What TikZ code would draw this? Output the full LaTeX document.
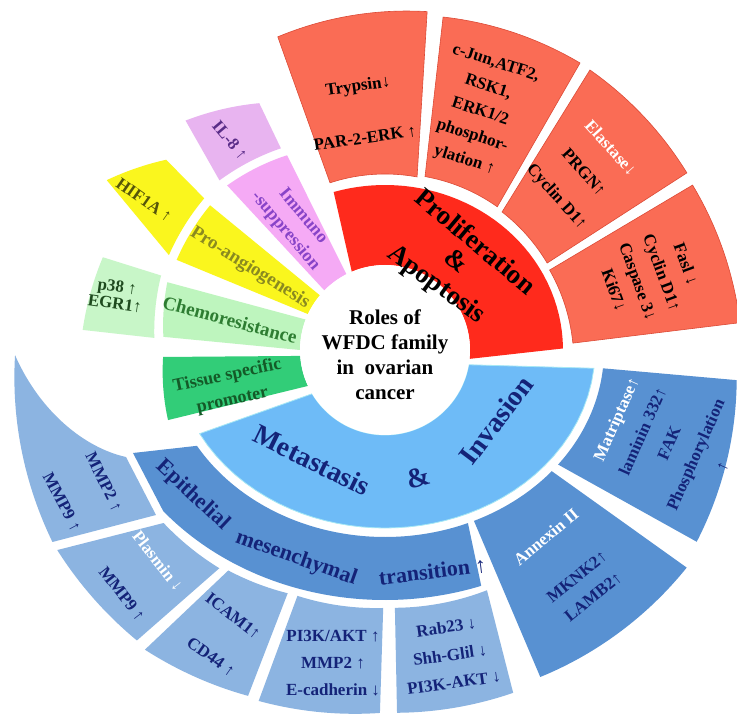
\documentclass[tikz,border=0pt]{standalone}
\usepackage{fontspec}
\setmainfont{Liberation Serif}
\definecolor{redband}{HTML}{FF2A1C}
\definecolor{salmon}{HTML}{FA6C55}
\definecolor{salmonedge}{HTML}{DC4A36}
\definecolor{lbblue}{HTML}{6EBBF7}
\definecolor{lbedge}{HTML}{A6E8F5}
\definecolor{midblue}{HTML}{5891D2}
\definecolor{ltblue}{HTML}{8CB4E1}
\definecolor{navy}{HTML}{142378}
\definecolor{immpink}{HTML}{F5AAF5}
\definecolor{ilpink}{HTML}{E8B4F0}
\definecolor{yel}{HTML}{FAF61E}
\definecolor{chemog}{HTML}{BEF5BE}
\definecolor{tissg}{HTML}{32CD78}
\definecolor{purtxt}{HTML}{8844C8}
\definecolor{ilpurtxt}{HTML}{5A2C88}
\definecolor{olivetxt}{HTML}{8A8A20}
\definecolor{hiftxt}{HTML}{55550A}
\definecolor{chemotxt}{HTML}{2E7D32}
\definecolor{ptxt}{HTML}{1E4A1E}
\definecolor{tisstxt}{HTML}{145A28}

\newcommand\myfs[2]{\fontsize{#1}{#2}\selectfont\bfseries}
\newcommand\wseg[7]{\path[#1] plot[domain=#2:#3,samples=40,variable=\t] (\t:{#4}) -- plot[domain=#6:#5,samples=40,variable=\t] (\t:{#7}) -- cycle;}

\begin{document}
\begin{tikzpicture}[x=1pt,y=1pt,
  declare function={lrp(\vt,\va,\vb,\ra,\rb)=\ra+(\rb-\ra)*(\vt-\va)/(\vb-\va);
                    ell(\vt,\ea,\eb)=100*\ea*\eb/sqrt((\eb*cos(\vt))^2+(\ea*sin(\vt))^2);},
  salmonbox/.style={fill=salmon,draw=salmonedge,line width=0.6pt},
  ltbox/.style={fill=ltblue},
  midbox/.style={fill=midblue},
  lbbox/.style={fill=lbblue,draw=lbedge,line width=0.8pt},
  ctext/.style={font=\myfs{21}{25},align=center,inner sep=0pt},
  bigtxt/.style={font=\myfs{27}{27},inner sep=0pt},
  mtxt/.style={font=\myfs{28}{28},text=navy,inner sep=0pt},
  emttxt/.style={font=\myfs{22}{22},text=navy,inner sep=0pt,anchor=base},
  salmtxt/.style={font=\myfs{17}{25.5},align=center,inner sep=0pt},
  bluetxt/.style={font=\myfs{17}{26},align=center,text=navy,inner sep=0pt},
  fantxt/.style={align=center,inner sep=0pt}]
\useasboundingbox (-385,-368) rectangle (352,350);
\clip (-385,-368) rectangle (352,350);
\fill[white] (-385,-368) rectangle (352,350);

% ---- red side ----
\wseg{fill=redband}{-6}{113}{85}{0.5}{108}{ell(\t,1.78,1.65)}
\wseg{salmonbox}{79.5}{108.2}{176}{82.9}{108.9}{lrp(\t,82.9,108.9,341,331)}
\wseg{salmonbox}{51.9}{77}{lrp(\t,51.9,77,182,178)}{55.8}{80.1}{lrp(\t,55.8,80.1,347,338)}
\wseg{salmonbox}{28.2}{49.7}{lrp(\t,28.2,49.7,184,181)}{30.4}{53.8}{lrp(\t,30.4,53.8,350,347)}
\wseg{salmonbox}{2.1}{25.9}{lrp(\t,2.1,25.9,188,183)}{4.4}{28.2}{lrp(\t,4.4,28.2,356,349)}

% ---- left fan ----
\wseg{fill=immpink}{117}{135.5}{85}{116.7}{133.8}{lrp(\t,116.7,133.8,218,228)}
\wseg{fill=ilpink}{117.3}{134.3}{lrp(\t,117.3,134.3,227,237)}{117}{131}{lrp(\t,117,131,277,304)}
\wseg{fill=yel}{140}{155}{85}{140.4}{156.6}{227}
\wseg{fill=yel}{140}{156.3}{236}{139}{148.6}{lrp(\t,139,148.6,290,326)}
\wseg{fill=chemog}{159}{180}{85}{162.7}{176.6}{lrp(\t,162.7,176.6,228,222)}
\wseg{fill=chemog!85!white}{161.6}{177}{lrp(\t,161.6,177,236,231)}{161.8}{176.2}{lrp(\t,161.8,176.2,297,303)}
\wseg{fill=tissg}{184}{205}{85}{181.8}{197.9}{lrp(\t,181.8,197.9,222,228)}

% ---- blue side ----
\wseg{lbbox}{211}{350}{85}{204.3}{355}{ell(\t,2.10,1.78)}
\path[midbox] plot[domain=207:295.6,samples=60,variable=\t] (\t:{ell(\t,2.19,1.87)})
  -- plot[domain=292.2:216,samples=60,variable=\t] (\t:{ell(\t,2.90,2.50)}) -- (-252,-103) -- cycle;
\wseg{midbox}{326.5}{355.2}{ell(\t,2.19,1.87)}{328.4}{355.1}{lrp(\t,328.4,355.1,366,353)}
\wseg{midbox}{297.5}{324}{ell(\t,2.19,1.87)}{295.4}{324.2}{lrp(\t,295.4,324.2,362,372)}
\wseg{ltbox}{272.2}{293}{lrp(\t,272.2,293,258,261)}{271.9}{290.5}{lrp(\t,271.9,290.5,363,366)}
\wseg{ltbox}{250.4}{269.6}{lrp(\t,250.4,269.6,261,258)}{250.2}{269.2}{lrp(\t,250.2,269.2,373,363)}
\wseg{ltbox}{234.6}{248.2}{lrp(\t,234.6,248.2,270.5,262)}{231.3}{248.4}{lrp(\t,231.3,248.4,384,372)}
\wseg{ltbox}{218}{232.8}{lrp(\t,218,232.8,281,274)}{211.4}{229.5}{lrp(\t,211.4,229.5,384,382)}
\path[ltbox] plot[domain=180.8:210,samples=40,variable=\t] (\t:{lrp(\t,180.8,210,370,384)})
  -- (-229,-165) -- (-259,-107) .. controls (-300,-98) and (-345,-62) .. (180.8:370) -- cycle;

% ---- centre ----
\fill[white] (0,0) circle (85);
\node[ctext] (centre) at (0,-5) {Roles of\\WFDC family\\in\enspace ovarian\\cancer};

% ---- red texts ----
\node[bigtxt,rotate=-40] (prolif) at (91,109) {Proliferation};
\node[bigtxt,rotate=-38] (ampA) at (72,90) {\&};
\node[bigtxt,rotate=-36] (apop) at (51,65) {Apoptosis};
\node[salmtxt,rotate=8] (tryp) at (-27,263) {Trypsin↓};
\node[salmtxt,rotate=8] (par) at (-20,212) {PAR-2-ERK ↑};
\node[salmtxt,rotate=-18] (cjun) at (95,238) {c-Jun,ATF2,\\RSK1,\\ERK1/2\\phosphor-\\ylation ↑};
\node[salmtxt,rotate=-48,font=\myfs{17}{36}] (prgn) at (198,177) {\textcolor{white}{Elastase↓}\\PRGN↑\\Cyclin D1↑};
\node[salmtxt,rotate=-70] (fasl) at (265,73) {Fasl ↓\\Cyclin D1↑\\Caspase 3↓\\Ki67↓};

% ---- fan texts ----
\node[fantxt,font=\myfs{17}{17},text=ilpurtxt,rotate=-50] (il8) at (-155,210) {IL-8 ↑};
\node[fantxt,font=\myfs{18}{23},text=purtxt,rotate=-50] (immuno) at (-91,126) {Immuno\\-suppression};
\node[fantxt,font=\myfs{17}{17},text=hiftxt,rotate=-35] (hif) at (-241,150) {HIF1A ↑};
\node[fantxt,font=\myfs{19}{19},text=olivetxt,rotate=-32] (proang) at (-135,82) {Pro-angiogenesis};
\node[fantxt,font=\myfs{17}{17},text=ptxt,rotate=-8] (p38) at (-269,55) {p38 ↑\\EGR1↑};
\node[fantxt,font=\myfs{19}{19},text=chemotxt,rotate=-15] (chemo) at (-155,30) {Chemoresistance};
\node[fantxt,font=\myfs{18}{25},text=tisstxt,rotate=12] (tissue) at (-155,-38) {Tissue specific\\promoter};

% ---- blue texts ----
\node[mtxt,rotate=-26] (meta) at (-73,-110) {Metastasis};
\node[mtxt,rotate=15] (ampB) at (33,-128) {\&};
\node[mtxt,rotate=53] (inva) at (111,-70) {Invasion};
\node[emttxt,rotate=-43] (epi) at (-196,-149) {Epithelial};
\node[emttxt,rotate=-19.6] (mes) at (-90.6,-213.5) {mesenchymal};
\node[emttxt,rotate=7.1] (tra) at (48.5,-228.7) {transition ↑};
\node[bluetxt,rotate=-64] (mmp2a) at (-281,-132) {MMP2 ↑};
\node[bluetxt,rotate=-62] (mmp9a) at (-323,-152) {MMP9 ↑};
\node[bluetxt,rotate=-52,text=white] (plas) at (-227,-211) {Plasmin ↓};
\node[bluetxt,rotate=-52] (mmp9b) at (-263,-244) {MMP9 ↑};
\node[bluetxt,rotate=-38] (icam) at (-152,-266) {ICAM1↑};
\node[bluetxt,rotate=-35] (cd44) at (-174,-307) {CD44 ↑};
\node[bluetxt,font=\myfs{17}{27}] (pi3k) at (-52,-313) {PI3K/AKT ↑\\MMP2 ↑\\E-cadherin ↓};
\node[bluetxt,rotate=8,font=\myfs{17}{28}] (rab) at (65,-305) {Rab23 ↓\\Shh-Glil ↓\\PI3K-AKT ↓};
\node[bluetxt,rotate=40,text=white] (anx) at (161,-187) {Annexin II};
\node[bluetxt,rotate=39] (mknk) at (200,-237) {MKNK2↑\\LAMB2↑};
\node[bluetxt,rotate=66,font=\myfs{17}{29}] (matr) at (284,-93) {\textcolor{white}{Matriptase↑}\\laminin 332↑\\FAK\\Phosphorylation\\↑};
\end{tikzpicture}
\end{document}
